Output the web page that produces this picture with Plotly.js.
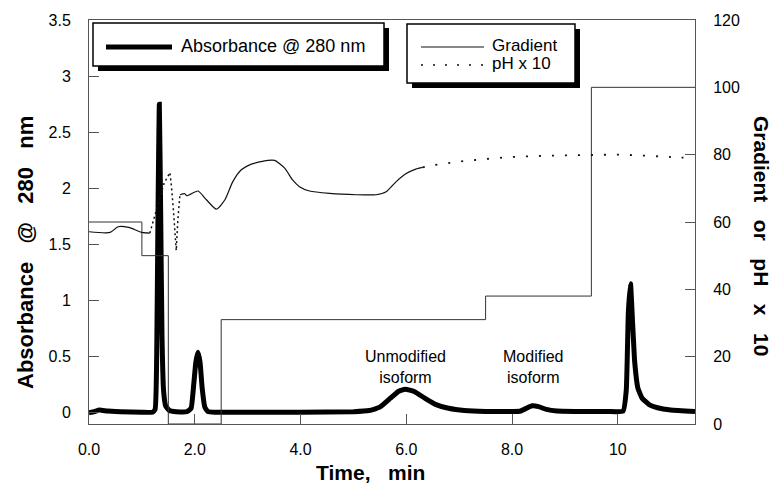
<!DOCTYPE html>
<html>
<head>
<meta charset="utf-8">
<script src="https://cdn.plot.ly/plotly-3.0.1.min.js"></script>
<style>html,body{margin:0;padding:0;background:#fff;}#chart{width:775px;height:484px;}</style>
</head>
<body>
<div id="chart"></div>
<script>
// ---- data ----
const absTime = [0, 0.1, 0.2, 0.35, 0.6, 1.0, 1.2, 1.25, 1.28, 1.305, 1.33, 1.355, 1.38, 1.41, 1.45, 1.52, 1.65, 1.85, 1.93, 1.98, 2.02, 2.06, 2.1, 2.14, 2.19, 2.25, 2.4, 3.0, 4.0, 5.0, 5.3, 5.5, 5.7, 5.85, 5.98, 6.15, 6.35, 6.55, 6.8, 7.1, 7.5, 8.0, 8.15, 8.25, 8.38, 8.5, 8.65, 8.85, 9.2, 9.8, 10.1, 10.16, 10.2, 10.24, 10.28, 10.32, 10.38, 10.46, 10.6, 10.75, 11.0, 11.46];
const absValue = [0.0, 0.01, 0.025, 0.015, 0.01, 0.005, 0.005, 0.03, 0.5, 1.8, 2.75, 1.8, 0.7, 0.2, 0.06, 0.02, 0.01, 0.01, 0.04, 0.25, 0.45, 0.54, 0.45, 0.22, 0.05, 0.01, 0.005, 0.005, 0.005, 0.01, 0.02, 0.05, 0.13, 0.19, 0.21, 0.19, 0.13, 0.075, 0.04, 0.02, 0.012, 0.012, 0.014, 0.035, 0.062, 0.055, 0.03, 0.015, 0.012, 0.012, 0.015, 0.2, 0.9, 1.15, 0.8, 0.45, 0.22, 0.13, 0.07, 0.045, 0.025, 0.012];

const gradTime = [0, 1.0, 1.5, 2.5, 7.5, 9.5, 11.46];
const gradValue = [60, 50, 0, 31, 38, 100, 100];

const phTime = [0, 0.4, 0.55, 0.75, 1.0, 1.15, 1.22, 1.3, 1.42, 1.53, 1.56, 1.6, 1.63, 1.65, 1.68, 1.72, 1.81, 1.85, 2.06, 2.22, 2.41, 2.57, 2.72, 2.88, 3.07, 3.38, 3.51, 3.70, 3.85, 3.98, 4.17, 4.55, 5.05, 5.43, 5.62, 5.81, 5.99, 6.18, 6.31, 6.47, 6.72, 6.98, 7.23, 7.5, 8.0, 8.5, 9.0, 9.5, 10.0, 10.5, 11.0, 11.4];
const phValue = [57.1, 56.9, 58.6, 58.4, 56.9, 56.7, 60.6, 65.0, 71.5, 74.7, 70.5, 62.7, 56.7, 51.5, 60.6, 68.1, 68.4, 67.8, 69.2, 66.6, 63.8, 66.6, 72.0, 75.5, 77.2, 78.3, 78.3, 76.0, 72.5, 70.5, 69.2, 68.5, 68.1, 68.1, 69.0, 72.0, 74.3, 75.7, 76.2, 76.8, 77.3, 77.9, 78.3, 78.7, 79.3, 79.6, 79.8, 79.9, 80.0, 79.7, 79.3, 79.0];

const xTickVals = [0, 2, 4, 6, 8, 10];
const xTickText = ['0.0', '2.0', '4.0', '6.0', '8.0', '10'];
const peakLabels = ['Unmodified<br>isoform', 'Modified<br>isoform'];
const peakLabelTime = [5.98, 8.4];
const legendTexts = ['Absorbance @ 280 nm', 'Gradient', 'pH x 10'];

// ---- layout geometry ----
const L = 89, T = 20, W = 606, H = 404;
const px = v => (v - L) / W;
const py = v => (T + H - v) / H;
const FONT = 'Liberation Sans, Arial, Helvetica, sans-serif';

// pH segments (solid where densely sampled, dotted where sparse)
const seg = (a, b) => ({x: phTime.slice(a, b + 1), y: phValue.slice(a, b + 1)});
const phA = seg(0, 5), phB = seg(5, 15), phC = seg(15, 38), phD = seg(38, phTime.length - 1);

const lineStyle = (dash, w) => ({color: '#111', width: w, dash: dash});

const traces = [
  {x: gradTime, y: gradValue, yaxis: 'y2', mode: 'lines', line: {color: '#333', width: 1, shape: 'hv'}, cliponaxis: false},
  {x: phA.x, y: phA.y, yaxis: 'y2', mode: 'lines', line: Object.assign(lineStyle('solid', 1.2), {shape: 'spline', smoothing: 0.6})},
  {x: phB.x, y: phB.y, yaxis: 'y2', mode: 'lines', line: lineStyle('2px,3px', 1.5)},
  {x: phC.x, y: phC.y, yaxis: 'y2', mode: 'lines', line: Object.assign(lineStyle('solid', 1.2), {shape: 'spline', smoothing: 0.6})},
  {x: phD.x, y: phD.y, yaxis: 'y2', mode: 'lines', line: Object.assign(lineStyle('2px,11px', 1.8), {shape: 'spline'})},
  {x: absTime, y: absValue, yaxis: 'y', mode: 'lines', line: {color: '#000', width: 5, shape: 'spline', smoothing: 0.4}}
];

const axisCommon = {
  showline: true, linecolor: '#555', linewidth: 1, showgrid: false, zeroline: false,
  ticks: 'inside', ticklen: 10, tickcolor: '#555', tickwidth: 1,
  tickfont: {family: FONT, size: 16, color: '#000'}
};

const shapes = [];
function box(x0, y0, x1, y1) {
  shapes.push({type: 'rect', xref: 'paper', yref: 'paper', x0: px(x0 + 5), x1: px(x1 + 5), y0: py(y0 + 5), y1: py(y1 + 5), fillcolor: '#000', line: {width: 0}});
  shapes.push({type: 'rect', xref: 'paper', yref: 'paper', x0: px(x0), x1: px(x1), y0: py(y0), y1: py(y1), fillcolor: '#fff', line: {color: '#000', width: 1.5}});
}
box(93, 23, 384, 66);
box(407, 24, 575, 83);
shapes.push({type: 'line', xref: 'paper', yref: 'paper', x0: px(106), x1: px(172), y0: py(47), y1: py(47), line: {color: '#000', width: 5}});
shapes.push({type: 'line', xref: 'paper', yref: 'paper', x0: px(421), x1: px(484), y0: py(47), y1: py(47), line: {color: '#111', width: 1}});
shapes.push({type: 'line', xref: 'paper', yref: 'paper', x0: px(421), x1: px(484), y0: py(65), y1: py(65), line: {color: '#111', width: 1.5, dash: '2px,10px'}});

const NB = '\u00a0';
const annotations = [
  {xref: 'paper', yref: 'paper', x: px(180), y: py(46), xanchor: 'left', yanchor: 'middle', text: legendTexts[0], showarrow: false, borderpad: 0, font: {family: FONT, size: 18, color: '#000'}},
  {xref: 'paper', yref: 'paper', x: px(491), y: py(45), xanchor: 'left', yanchor: 'middle', text: legendTexts[1], showarrow: false, borderpad: 0, font: {family: FONT, size: 17, color: '#000'}},
  {xref: 'paper', yref: 'paper', x: px(491), y: py(64), xanchor: 'left', yanchor: 'middle', text: legendTexts[2], showarrow: false, borderpad: 0, font: {family: FONT, size: 17, color: '#000'}},
  {xref: 'x', yref: 'y', x: peakLabelTime[0], y: 0.41, xanchor: 'center', yanchor: 'middle', text: peakLabels[0], showarrow: false, font: {family: FONT, size: 16, color: '#000'}},
  {xref: 'x', yref: 'y', x: peakLabelTime[1], y: 0.41, xanchor: 'center', yanchor: 'middle', text: peakLabels[1], showarrow: false, font: {family: FONT, size: 16, color: '#000'}},
  {xref: 'paper', yref: 'paper', x: px(25), y: py(253), xanchor: 'center', yanchor: 'middle', textangle: -90,
   text: ['Absorbance', '@', '280', 'nm'].join(NB + NB + NB), showarrow: false, font: {family: FONT, size: 22, color: '#000', weight: 'bold'}},
  {xref: 'paper', yref: 'paper', x: px(762), y: py(236), xanchor: 'center', yanchor: 'middle', textangle: 90,
   text: ['Gradient', 'or', 'pH', 'x', '10'].join(NB + NB + NB), showarrow: false, font: {family: FONT, size: 21, color: '#000', weight: 'bold'}},
  {xref: 'paper', yref: 'paper', x: px(370), y: py(472), xanchor: 'center', yanchor: 'middle', borderpad: 0,
   text: 'Time,' + NB + NB + NB + 'min', showarrow: false, font: {family: FONT, size: 21, color: '#000', weight: 'bold'}}
];

const layout = {
  width: 775, height: 484,
  margin: {l: L, r: 775 - L - W, t: T, b: 484 - T - H, pad: 0},
  paper_bgcolor: '#fff', plot_bgcolor: '#fff',
  showlegend: false,
  font: {family: FONT, color: '#000'},
  xaxis: Object.assign({}, axisCommon, {range: [0, 11.46], tickvals: xTickVals, ticktext: xTickText, mirror: true, ticklabelstandoff: 11}),
  yaxis: Object.assign({}, axisCommon, {range: [-0.1, 3.5], dtick: 0.5, tick0: 0, ticklabelstandoff: 14}),
  yaxis2: Object.assign({}, axisCommon, {range: [0, 120], dtick: 20, overlaying: 'y', side: 'right', ticklabelstandoff: 14}),
  shapes: shapes,
  annotations: annotations
};

Plotly.newPlot('chart', traces, layout, {staticPlot: true, displayModeBar: false});
</script>
</body>
</html>
